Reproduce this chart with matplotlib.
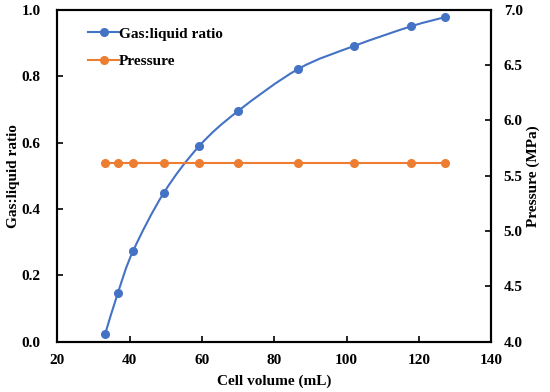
import matplotlib.pyplot as plt
import numpy as np
from matplotlib.path import Path
from matplotlib.patches import PathPatch
from matplotlib.ticker import FormatStrFormatter

plt.rcParams["font.family"] = ["Liberation Serif", "DejaVu Serif"]
plt.rcParams["font.weight"] = "bold"
plt.rcParams["font.size"] = 11

# data
cell_volume = [33.3, 36.8, 41.0, 49.5, 59.3, 70.0, 86.7, 102.1, 117.8, 127.3]
gas_liquid_ratio = [0.025, 0.148, 0.274, 0.449, 0.590, 0.695, 0.822, 0.891, 0.950, 0.978]
pressure = [5.62] * 10

blue = "#4472C4"
orange = "#ED7D31"


def smooth_path(x, y):
    # Catmull-Rom style bezier through the points, like Excel's smoothed line
    x = np.asarray(x, float)
    y = np.asarray(y, float)
    verts = [(x[0], y[0])]
    codes = [Path.MOVETO]
    n = len(x)
    for i in range(n - 1):
        x0, y0 = (x[i - 1], y[i - 1]) if i > 0 else (x[i], y[i])
        x3, y3 = (x[i + 2], y[i + 2]) if i + 2 < n else (x[i + 1], y[i + 1])
        c1 = (x[i] + (x[i + 1] - x0) / 6, y[i] + (y[i + 1] - y0) / 6)
        c2 = (x[i + 1] - (x3 - x[i]) / 6, y[i + 1] - (y3 - y[i]) / 6)
        verts += [c1, c2, (x[i + 1], y[i + 1])]
        codes += [Path.CURVE4] * 3
    return Path(verts, codes)


fig, ax = plt.subplots(figsize=(5.5, 3.92), dpi=100)
ax2 = ax.twinx()

ax.add_patch(PathPatch(smooth_path(cell_volume, gas_liquid_ratio), fill=False,
                       edgecolor=blue, lw=1.5, zorder=3))
ax.plot(cell_volume, gas_liquid_ratio, "o", color=blue, ms=5.5, zorder=4)
ax2.plot(cell_volume, pressure, "o-", color=orange, ms=5.5, lw=1.5, zorder=4)

h1, = ax.plot([], [], "o-", color=blue, ms=5.5, lw=1.5)
h2, = ax.plot([], [], "o-", color=orange, ms=5.5, lw=1.5)
ax.legend([h1, h2], ["Gas:liquid ratio", "Pressure"], loc="upper left",
          frameon=False, bbox_to_anchor=(0.04, 0.99), handlelength=2.0,
          handletextpad=0.0, labelspacing=0.9)

ax.set_xlim(20, 140)
ax.set_ylim(0, 1.0)
ax2.set_ylim(4.0, 7.0)
ax.set_xticks(np.arange(20, 141, 20))
ax.set_yticks(np.arange(0, 1.01, 0.2))
ax2.set_yticks(np.arange(4.0, 7.01, 0.5))
ax.yaxis.set_major_formatter(FormatStrFormatter("%.1f"))
ax2.yaxis.set_major_formatter(FormatStrFormatter("%.1f"))

for a in (ax, ax2):
    a.tick_params(direction="in", length=4, width=1.2, labelsize=11)
    for s in a.spines.values():
        s.set_linewidth(1.5)
ax.tick_params(axis="y", pad=12)
ax.tick_params(axis="x", pad=9)
ax2.tick_params(axis="y", pad=9)

ax.set_xlabel("Cell volume (mL)", fontweight="bold", labelpad=5)
ax.set_ylabel("Gas:liquid ratio", fontweight="bold", labelpad=1)
ax2.set_ylabel("Pressure (MPa)", fontweight="bold", labelpad=3)

fig.subplots_adjust(left=0.104, right=0.893, top=0.975, bottom=0.128)
fig.savefig("out.png", dpi=100)
